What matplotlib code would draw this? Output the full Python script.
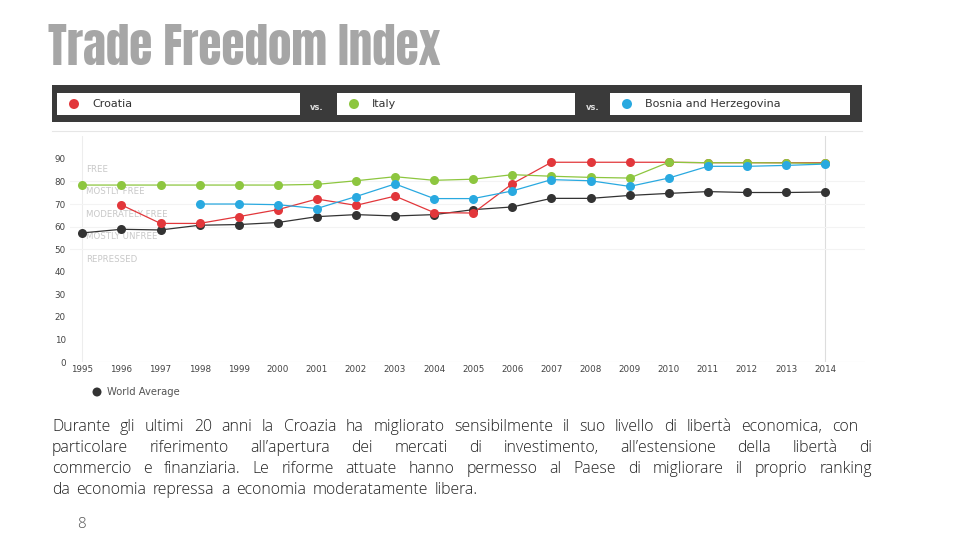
import matplotlib
matplotlib.use("Agg")
import matplotlib.pyplot as plt
from matplotlib.patches import Rectangle, Ellipse

years = list(range(1995, 2015))
croatia = [None, 69.6, 61.4, 61.4, 64.4, 67.5, 72.2, 69.4, 73.5, 66.2,
           66.0, 79.0, 88.5, 88.5, 88.5, 88.5, 88.3, 88.3, 88.3, 88.3]
italy = [78.4, 78.4, 78.4, 78.4, 78.4, 78.4, 78.7, 80.3, 82.1, 80.5,
         81.0, 83.0, 82.3, 81.8, 81.5, 88.5, 88.3, 88.3, 88.2, 88.0]
bosnia = [None, None, None, 70.0, 70.0, 69.7, 68.0, 73.3, 78.9, 72.4,
          72.4, 75.8, 80.8, 80.3, 77.8, 81.5, 86.7, 86.7, 87.1, 87.7]
world = [57.2, 58.8, 58.5, 60.6, 60.9, 61.8, 64.4, 65.3, 64.7, 65.3,
         67.5, 68.7, 72.5, 72.5, 73.8, 74.7, 75.5, 75.1, 75.1, 75.3]

categories = ["FREE", "MOSTLY FREE", "MODERATELY FREE", "MOSTLY UNFREE", "REPRESSED"]
category_pos = [85.5, 75.5, 65.5, 55.5, 45.5]
y_ticks = [0, 10, 20, 30, 40, 50, 60, 70, 80, 90]

countries = ["Croatia", "Italy", "Bosnia and Herzegovina"]
colors = {"Croatia": "#e2373b", "Italy": "#8dc63f",
          "Bosnia and Herzegovina": "#29a9e0", "World Average": "#333333"}

paragraph = [
    "Durante gli ultimi 20 anni la Croazia ha migliorato sensibilmente il suo livello di libertà economica, con",
    "particolare riferimento all’apertura dei mercati di investimento, all’estensione della libertà di",
    "commercio e finanziaria. Le riforme attuate hanno permesso al Paese di migliorare il proprio ranking",
    "da economia repressa a economia moderatamente libera.",
]

W, H = 960, 543
fig = plt.figure(figsize=(9.6, 5.43), dpi=100)
fig.patch.set_facecolor("white")
renderer = fig.canvas.get_renderer()


def px(x, y):
    # pixel coords (top-left origin) -> figure fraction
    return x / W, 1 - y / H


def dot(x, y, r, color):
    fig.add_artist(Ellipse(px(x, y), 2 * r / W, 2 * r / H, transform=fig.transFigure,
                           facecolor=color, edgecolor="none"))


def fit_size(text, target_w, base=20, **kw):
    t = fig.text(0, 0, text, fontsize=base, **kw)
    w = t.get_window_extent(renderer).width
    t.remove()
    return base * target_w / w


# title
tfont = dict(family=["Anton", "Oswald", "DejaVu Sans"], color="#a6a6a6", va="baseline")
tsize = fit_size("Trade Freedom Index", 392, **tfont)
fig.text(*px(48, 65), "Trade Freedom Index", fontsize=tsize, **tfont)

# banner with the three countries
fig.add_artist(Rectangle(px(52, 122), 810 / W, 37 / H, transform=fig.transFigure,
                         facecolor="#3a3a3a", edgecolor="none"))
boxes = [(57, 300), (337, 575), (610, 850)]
for name, (x0, x1) in zip(countries, boxes):
    fig.add_artist(Rectangle(px(x0, 115), (x1 - x0) / W, 22 / H, transform=fig.transFigure,
                             facecolor="white", edgecolor="none"))
    dot(x0 + 17, 104, 5, colors[name])
    fig.text(*px(x0 + 35, 104), name, fontsize=8, color="#333333", va="center")
for xv in (310, 586):
    fig.text(*px(xv, 108), "vs.", fontsize=6, color="#dddddd", va="center", fontweight="bold")
fig.add_artist(plt.Line2D([52 / W, 862 / W], [1 - 131 / H] * 2, transform=fig.transFigure,
                          color="#e6e6e6", lw=0.8))

# chart
ax = fig.add_axes([70 / W, (H - 362) / H, 795 / W, 225.7 / H])
ax.set_xlim(1994.685, 2015.02)
ax.set_ylim(0, 100)
for s in ax.spines.values():
    s.set_visible(False)
ax.axhline(0, color="#dcdcdc", lw=0.8)
ax.axvline(1995, color="#ededed", lw=0.8)
ax.axvline(2014, color="#dddddd", lw=0.8)
for yv in (50, 60, 70, 80):
    ax.axhline(yv, color="#f3f3f3", lw=0.8)
for lab, yv in zip(categories, category_pos):
    ax.text(1995.1, yv, lab, fontsize=6.2, color="#c8c8c8", va="center")

series = [("World Average", world), ("Croatia", croatia), ("Italy", italy),
          ("Bosnia and Herzegovina", bosnia)]
for name, vals in series:
    xs = [y for y, v in zip(years, vals) if v is not None]
    vs = [v for v in vals if v is not None]
    ax.plot(xs, vs, color=colors[name], lw=0.9, marker="o", markersize=6.5,
            markeredgewidth=0, zorder=3)

ax.set_xticks(years)
ax.set_xticklabels([str(y) for y in years])
ax.set_yticks(y_ticks)
ax.tick_params(length=0, labelsize=6.3, labelcolor="#444444")
ax.tick_params(axis="x", pad=2)
ax.tick_params(axis="y", pad=3)

# world average legend
dot(97, 392, 4.5, "#333333")
fig.text(*px(107, 392), "World Average", fontsize=7.2, color="#555555", va="center")

# paragraph: first three lines justified, the last one with plain wide spacing
pfont = dict(family="Open Sans", weight="light", color="#222222", va="baseline", fontsize=11.4)
line_y = [431, 452, 473, 494]
right_edges = [858, 872, 872, None]
for line, yv, xr in zip(paragraph, line_y, right_edges):
    words = line.split(" ")
    objs = [fig.text(0, 0, w, **pfont) for w in words]
    widths = [o.get_window_extent(renderer).width for o in objs]
    if xr is None:
        gap = 6.5
    else:
        gap = max((xr - 52 - sum(widths)) / (len(words) - 1), 3)
    x = 52
    for o, w in zip(objs, widths):
        o.set_position(px(x, yv))
        x += w + gap

fig.text(*px(77, 528), "8", fontsize=11, color="#555555", va="baseline",
         family="Open Sans", weight="light")

fig.savefig("out.png", dpi=100)
